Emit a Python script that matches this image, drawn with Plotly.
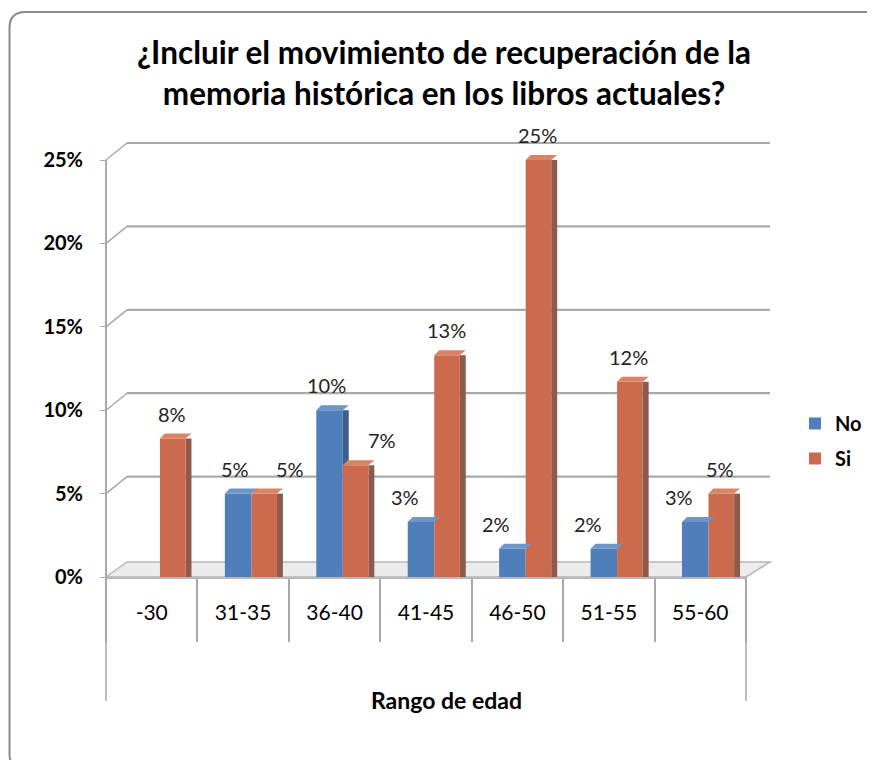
import plotly.graph_objects as go

categories = ["-30", "31-35", "36-40", "41-45", "46-50", "51-55", "55-60"]
no_vals = [0.0, 0.05, 0.10, 0.033, 0.017, 0.017, 0.033]
si_vals = [0.083, 0.05, 0.067, 0.133, 0.25, 0.117, 0.05]
y_ticks = [0, 0.05, 0.10, 0.15, 0.20, 0.25]
y_tick_labels = ["0%", "5%", "10%", "15%", "20%", "25%"]
title_text = "¿Incluir el movimiento de recuperación de la<br>memoria histórica en los libros actuales?"
x_title = "Rango de edad"

W, H = 875, 760
OFF = 8  # page body margin of the browser
# plot area in screen pixels
SX0, SX1, SY0, SY1 = 106, 770, 135, 577
L = SX0 - OFF
R = W - (SX1 - OFF)
T = SY0 - OFF
B = H - (SY1 - OFF)
PW = SX1 - SX0
PH = SY1 - SY0
DX, DY = 21, 17  # 3D depth offset in px
Y_TOP = 0.265
FRONT_RIGHT = 746


def px(x):
    return (x - SX0) / PW


def py(y):
    return (SY1 - y) / PH


FONT = "Lato"
BLUE, BLUE_SIDE, BLUE_TOP = "#4f7fbb", "#3d5f8a", "#6d95c8"
ORANGE, ORANGE_SIDE, ORANGE_TOP = "#cb6a4c", "#8e5a4c", "#da8466"
GRID = "#a9a9a9"

fig = go.Figure()

# side faces (3D look)
fig.add_trace(go.Bar(x=categories, y=si_vals, offset=0.37, width=0.065,
                     marker=dict(color=ORANGE_SIDE, line=dict(width=0)),
                     showlegend=False, hoverinfo="skip"))
no_side_h = [max(n - s, 0) for n, s in zip(no_vals, si_vals)]
fig.add_trace(go.Bar(x=categories, y=no_side_h, base=si_vals, offset=0.09, width=0.065,
                     marker=dict(color=BLUE_SIDE, line=dict(width=0)),
                     showlegend=False, hoverinfo="skip"))

fig.add_trace(go.Bar(
    x=categories, y=no_vals, name="No", offset=-0.2, width=0.29,
    marker=dict(color=BLUE, line=dict(width=0)), legendgroup="a"))
fig.add_trace(go.Bar(
    x=categories, y=si_vals, name="Si", offset=0.09, width=0.28,
    marker=dict(color=ORANGE, line=dict(width=0)), legendgroup="b"))

annotations = []
lab_font = dict(family=FONT, size=20, color="#222")
for i, (n, s) in enumerate(zip(no_vals, si_vals)):
    if n > 0:
        nshift = -21 if n < s else -8
        annotations.append(dict(x=i, y=n, xref="x", yref="y", text=f"{round(n*100)}%",
                                showarrow=False, xshift=nshift, yshift=25,
                                yanchor="middle", font=lab_font))
    sshift = 47 if (n >= s and n > 0) else 20
    annotations.append(dict(x=i, y=s, xref="x", yref="y", text=f"{round(s*100)}%",
                            showarrow=False, xshift=sshift, yshift=25,
                            yanchor="middle", font=lab_font))
annotations.append(dict(text=f"<b>{x_title}</b>", x=px(447), y=py(700), xref="paper", yref="paper",
                        xanchor="center", yanchor="middle",
                        showarrow=False, font=dict(family=FONT, size=23, color="#000")))

shapes = []
# floor
shapes.append(dict(type="path", xref="paper", yref="paper", layer="below",
                   path=f"M {px(SX0)} {py(SY1)} L {px(FRONT_RIGHT)} {py(SY1)} L {px(SX1)} {py(SY1-DY+2)} L {px(SX0+DX)} {py(SY1-DY+2)} Z",
                   fillcolor="#ececec", line=dict(color="#b8b8b8", width=1.5)))
# back wall grid lines + diagonals
for v in y_ticks[1:]:
    shapes.append(dict(type="line", xref="paper", yref="y", ysizemode="pixel", yanchor=v,
                       x0=px(SX0 + DX), x1=1, y0=DY, y1=DY, layer="below",
                       line=dict(color=GRID, width=2.2)))
for v in y_ticks[1:]:
    shapes.append(dict(type="line", xref="paper", yref="y", ysizemode="pixel", yanchor=v,
                       x0=0, x1=px(SX0 + DX), y0=0, y1=DY, layer="below",
                       line=dict(color=GRID, width=1.5)))
# bar top caps (3D look)
for i, (n, s) in enumerate(zip(no_vals, si_vals)):
    for val, off, wdt, col in ((n, -0.2, 0.29, BLUE_TOP), (s, 0.09, 0.28, ORANGE_TOP)):
        if val <= 0:
            continue
        wpx = wdt * (FRONT_RIGHT - SX0) / len(categories)
        shapes.append(dict(type="path", xref="x", yref="y", xsizemode="pixel", ysizemode="pixel",
                           xanchor=i + off, yanchor=val,
                           path=f"M 0 0 L {wpx:.1f} 0 L {wpx+6:.1f} 5 L 5 5 Z",
                           fillcolor=col, line=dict(width=0)))
# front value axis line
shapes.append(dict(type="line", xref="paper", yref="y", x0=0, x1=0, y0=y_ticks[0], y1=y_ticks[-1],
                   line=dict(color=GRID, width=2)))
# outer category boundary lines
for xx in (SX0, FRONT_RIGHT):
    shapes.append(dict(type="line", xref="paper", yref="paper",
                       x0=px(xx), x1=px(xx), y0=py(SY1), y1=py(701),
                       line=dict(color=GRID, width=1.5)))
# rounded chart border
x0b, x1b, y0b, y1b, r = 9.5, 885, 12, 770, 16
path = (f"M {px(x0b + r)} {py(y0b)} L {px(x1b - r)} {py(y0b)} "
        f"Q {px(x1b)} {py(y0b)} {px(x1b)} {py(y0b + r)} L {px(x1b)} {py(y1b - r)} "
        f"Q {px(x1b)} {py(y1b)} {px(x1b - r)} {py(y1b)} L {px(x0b + r)} {py(y1b)} "
        f"Q {px(x0b)} {py(y1b)} {px(x0b)} {py(y1b - r)} L {px(x0b)} {py(y0b + r)} "
        f"Q {px(x0b)} {py(y0b)} {px(x0b + r)} {py(y0b)} Z")
shapes.append(dict(type="path", xref="paper", yref="paper", path=path,
                   line=dict(color="#8a8a8a", width=2)))

fig.update_layout(
    width=W, height=H,
    margin=dict(l=L, r=R, t=T, b=B, autoexpand=False),
    paper_bgcolor="white", plot_bgcolor="rgba(0,0,0,0)",
    barmode="overlay",
    font=dict(family=FONT, color="#000"),
    title=dict(text=f"<b>{title_text}</b>", x=(444 - OFF) / W, xanchor="center",
               y=1 - 56 / H, yanchor="middle", font=dict(family=FONT, size=31.5, color="#000")),
    xaxis=dict(type="category", range=[-0.5, len(categories) - 0.5],
               domain=[0, px(FRONT_RIGHT)], showgrid=False, showline=True, linecolor="#b8b8b8",
               linewidth=1.5, ticks="outside", tickson="boundaries", ticklen=63,
               tickcolor=GRID, tickwidth=1.5, ticklabelstandoff=16,
               tickfont=dict(family=FONT, size=21, color="#000"), fixedrange=True),
    yaxis=dict(range=[0, Y_TOP], tickvals=y_ticks, ticktext=y_tick_labels, showgrid=False,
               zeroline=False, showline=False,
               ticks="outside", ticklen=5, tickcolor=GRID, ticklabelstandoff=13,
               tickfont=dict(family=FONT, size=20, color="#000", weight="bold")),
    legend=dict(x=px(795), y=py(404), xanchor="left", yanchor="top",
                font=dict(family=FONT, size=20, color="#000", weight="bold"),
                tracegroupgap=6, bgcolor="rgba(0,0,0,0)"),
    shapes=shapes,
    annotations=annotations,
)

fig.write_html("out.html")
